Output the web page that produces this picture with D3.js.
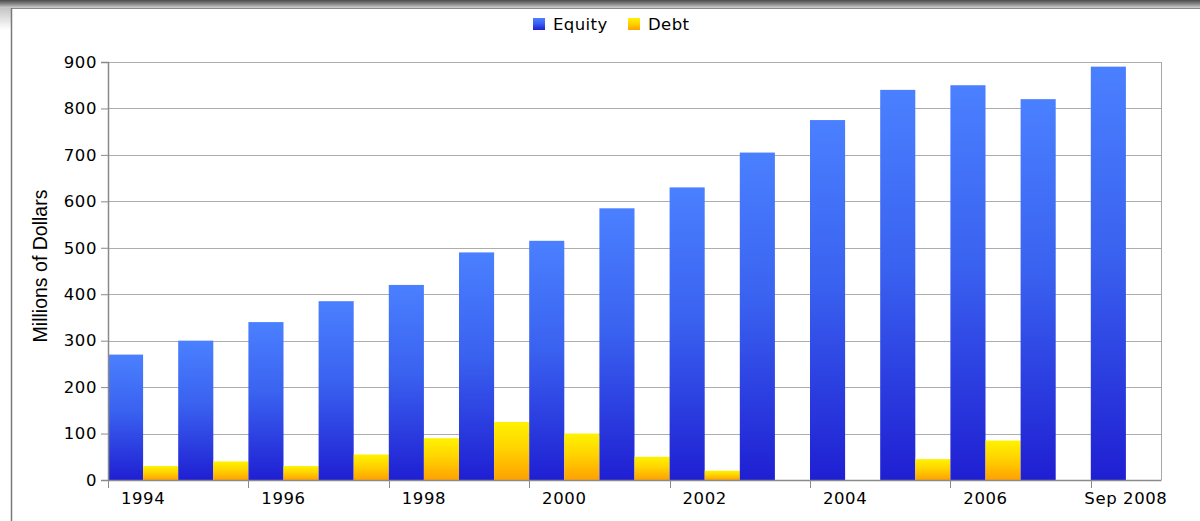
<!DOCTYPE html>
<html>
<head>
<meta charset="utf-8">
<script src="https://cdn.jsdelivr.net/npm/d3@7/dist/d3.min.js"></script>
<style>
  html, body { margin: 0; padding: 0; background: #fff; }
  svg { display: block; }
</style>
</head>
<body>
<svg id="chart" width="1200" height="521"></svg>
<script>
// Yearly capital raised, in millions of dollars
const years = ["1994","1995","1996","1997","1998","1999","2000","2001","2002","2003","2004","2005","2006","2007","2008"];
const equity = [270, 300, 340, 385, 420, 490, 515, 585, 630, 705, 775, 840, 850, 820, 890];
const debt   = [30, 40, 30, 55, 90, 125, 100, 50, 20, 0, 0, 45, 85, 0, 0];
const seriesNames = ["Equity", "Debt"];
const yTicks = [0, 100, 200, 300, 400, 500, 600, 700, 800, 900];
// Axis shows every other year; the final period is a partial year
const xTickLabels = {"1994":"1994","1996":"1996","1998":"1998","2000":"2000","2002":"2002","2004":"2004","2006":"2006","2008":"Sep 2008"};

const svg = d3.select("#chart");
const W = 1200, H = 521;
const m = {left: 108, right: 1161, top: 62, bottom: 480};
const FONT = "DejaVu Sans, Verdana, sans-serif";

const defs = svg.append("defs");
function vgrad(id, stops) {
  const g = defs.append("linearGradient").attr("id", id)
    .attr("x1", 0).attr("y1", 0).attr("x2", 0).attr("y2", 1);
  stops.forEach(([o, c]) => g.append("stop").attr("offset", o).attr("stop-color", c));
}
vgrad("gEquity", [[0, "#4a80ff"], [0.45, "#3a62f0"], [1, "#1f1fd2"]]);
vgrad("gDebt", [[0, "#fff200"], [0.45, "#ffd400"], [1, "#ffa000"]]);
vgrad("gTop", [[0, "#4a4a4a"], [0.5, "#878787"], [1, "#d2d2d2"]]);
vgrad("gCorner", [[0, "#c4c4c4"], [1, "#ffffff"]]);

// Page frame: dark top edge and left rule
svg.append("rect").attr("x", 0).attr("y", 8).attr("width", 11).attr("height", 22).attr("fill", "url(#gCorner)");
svg.append("rect").attr("x", 0).attr("y", 0).attr("width", W).attr("height", 8).attr("fill", "url(#gTop)");
svg.append("line").attr("x1", 11).attr("x2", W).attr("y1", 8.5).attr("y2", 8.5).attr("stroke", "#8a8a8a").attr("stroke-width", 1);
svg.append("line").attr("x1", 11.5).attr("x2", 11.5).attr("y1", 8).attr("y2", H).attr("stroke", "#7a7a7a").attr("stroke-width", 1.5);

// Scales
const x0 = d3.scaleBand().domain(years).range([m.left, m.right]).padding(0);
const x1 = d3.scaleBand().domain(seriesNames).range([0, x0.bandwidth()]).padding(0);
const y = d3.scaleLinear().domain([0, 900]).range([m.bottom, m.top]);

// Grid lines
svg.append("g").selectAll("line").data(yTicks.filter(d => d > 0)).join("line")
  .attr("x1", m.left).attr("x2", m.right)
  .attr("y1", d => Math.round(y(d)) + 0.5).attr("y2", d => Math.round(y(d)) + 0.5)
  .attr("stroke", "#adadad").attr("stroke-width", 1);
// Right border of plot area
svg.append("line").attr("x1", m.right + 0.5).attr("x2", m.right + 0.5)
  .attr("y1", m.top).attr("y2", m.bottom).attr("stroke", "#a8a8a8");

// Bars
const rows = years.map((yr, i) => ({year: yr, Equity: equity[i], Debt: debt[i]}));
const fills = {Equity: "url(#gEquity)", Debt: "url(#gDebt)"};
const groups = svg.append("g").selectAll("g").data(rows).join("g")
  .attr("transform", d => `translate(${x0(d.year)},0)`);
groups.selectAll("rect")
  .data(d => seriesNames.map(k => ({key: k, value: d[k]})).filter(d => d.value > 0))
  .join("rect")
  .attr("x", d => x1(d.key))
  .attr("width", x1.bandwidth())
  .attr("y", d => y(d.value))
  .attr("height", d => y(0) - y(d.value))
  .attr("fill", d => fills[d.key]);

// Y axis
const yAxis = d3.axisLeft(y).tickValues(yTicks).tickSize(7).tickPadding(4);
const gy = svg.append("g").attr("transform", `translate(${m.left},0)`).call(yAxis);
gy.select(".domain").attr("stroke", "#8a8a8a").attr("stroke-width", 1.5);
gy.selectAll(".tick line").attr("stroke", "#8a8a8a");
gy.selectAll("text").attr("font-family", FONT)
  .attr("font-size", 16.5).attr("letter-spacing", "0.6px").attr("fill", "#000");

// X axis: ticks at the start of each labelled year, labels centred on the year
const xAxis = d3.axisBottom(x0).tickValues(Object.keys(xTickLabels))
  .tickFormat(d => xTickLabels[d]).tickSize(0).tickPadding(12);
const gx = svg.append("g").attr("transform", `translate(0,${m.bottom})`).call(xAxis);
gx.select(".domain").attr("stroke", "#8a8a8a").attr("stroke-width", 1.5);
gx.selectAll("text").attr("font-family", FONT)
  .attr("font-size", 16.5).attr("letter-spacing", "0.6px").attr("fill", "#000");
svg.append("g").selectAll("line").data(Object.keys(xTickLabels)).join("line")
  .attr("x1", d => Math.round(x0(d)) + 0.5).attr("x2", d => Math.round(x0(d)) + 0.5)
  .attr("y1", m.bottom).attr("y2", m.bottom + 8)
  .attr("stroke", "#8a8a8a");

// Y axis title
svg.append("text")
  .attr("transform", `translate(47,266) rotate(-90)`)
  .attr("text-anchor", "middle")
  .attr("font-family", "Liberation Sans, Arial, sans-serif")
  .attr("font-size", 19.5).attr("fill", "#000")
  .text("Millions of Dollars");

// Legend
const legend = svg.append("g").attr("font-family", FONT).attr("font-size", 16.5);
const legendItems = [{name: "Equity", fill: "url(#gEquity)", x: 533}, {name: "Debt", fill: "url(#gDebt)", x: 628}];
legendItems.forEach(it => {
  legend.append("rect").attr("x", it.x).attr("y", 18).attr("width", 12).attr("height", 12).attr("fill", it.fill);
  legend.append("text").attr("x", it.x + 20).attr("y", 30).attr("fill", "#000")
    .attr("letter-spacing", "0.4px").text(it.name);
});
</script>
</body>
</html>
